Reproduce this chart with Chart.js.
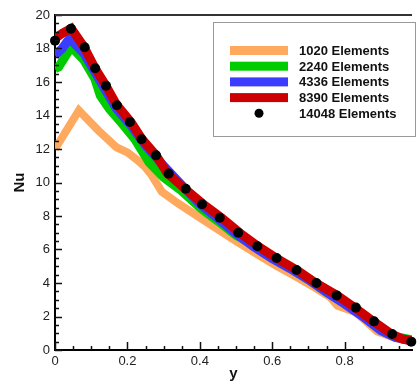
<!DOCTYPE html>
<html>
<head>
<meta charset="utf-8">
<script src="https://cdn.jsdelivr.net/npm/chart.js@4"></script>
<style>
    body { margin: 0; background: #fff; }
    #wrap { width: 417px; height: 383px; }
</style>
</head>
<body>
<div id="wrap"><canvas id="chart-1" width="417" height="383"></canvas></div>
<script>

// series values
const labels = ['1020 Elements', '2240 Elements', '4336 Elements', '8390 Elements', '14048 Elements']

const x1020 = [0, 0.066, 0.12, 0.17, 0.2, 0.23, 0.25, 0.265, 0.295, 0.34, 0.4, 0.45, 0.5, 0.56, 0.61, 0.66, 0.72, 0.76, 0.78, 0.83, 0.86, 0.89, 0.93, 0.986]
const y1020 = [12.0, 14.3, 13.1, 12.1, 11.8, 11.3, 10.9, 10.5, 9.45, 8.75, 7.9, 7.2, 6.5, 5.7, 5.05, 4.45, 3.7, 3.15, 2.65, 2.25, 1.7, 1.1, 0.8, 0.5]

const x2240 = [0, 0.01, 0.045, 0.08, 0.11, 0.125, 0.15, 0.19, 0.22, 0.26, 0.3, 0.35, 0.4, 0.45, 0.5, 0.55, 0.6, 0.65, 0.7, 0.75, 0.8, 0.85, 0.9, 0.94, 0.986]
const y2240 = [16.8, 16.9, 18.1, 17.3, 16.2, 15.2, 14.4, 13.4, 12.6, 11.2, 10.3, 9.5, 8.5, 7.7, 6.85, 6.25, 5.6, 4.9, 4.2, 3.45, 2.8, 2.1, 1.3, 0.8, 0.6]

const x4336 = [0, 0.02, 0.04, 0.08, 0.11, 0.14, 0.17, 0.21, 0.25, 0.3, 0.35, 0.4, 0.45, 0.5, 0.55, 0.6, 0.65, 0.7, 0.75, 0.8, 0.85, 0.9, 0.94, 0.986]
const y4336 = [17.6, 18.0, 18.6, 17.7, 16.6, 15.5, 14.4, 13.4, 12.2, 11.0, 9.85, 8.7, 7.85, 6.95, 6.15, 5.45, 4.85, 4.2, 3.45, 2.75, 2.0, 1.15, 0.75, 0.55]

const x8390 = [0, 0.02, 0.045, 0.08, 0.11, 0.14, 0.17, 0.21, 0.24, 0.28, 0.31, 0.36, 0.41, 0.46, 0.51, 0.56, 0.61, 0.67, 0.72, 0.78, 0.83, 0.88, 0.93, 0.96, 0.986]
const y8390 = [18.6, 18.9, 19.2, 18.1, 16.85, 15.8, 14.65, 13.6, 12.6, 11.6, 10.55, 9.6, 8.7, 7.9, 7.0, 6.2, 5.5, 4.75, 4.0, 3.25, 2.5, 1.7, 0.95, 0.65, 0.55]

const x14048 = [0, 0.044, 0.082, 0.111, 0.141, 0.171, 0.207, 0.239, 0.279, 0.314, 0.361, 0.406, 0.455, 0.506, 0.559, 0.612, 0.667, 0.722, 0.778, 0.831, 0.881, 0.931, 0.984]
const y14048 = [18.47, 19.18, 18.07, 16.82, 15.78, 14.61, 13.61, 12.58, 11.62, 10.53, 9.63, 8.70, 7.90, 7.00, 6.19, 5.49, 4.78, 4.00, 3.26, 2.53, 1.71, 0.96, 0.50]

const xTicks = [0, 0.2, 0.4, 0.6, 0.8]

const colors = ['#FFA95E', '#00CC00', '#3C3CFF', '#CC0000', '#000000']

const pts = (xs, ys) => xs.map((x, i) => ({ x: x, y: ys[i] }))


// ////////////////////////////// inward ticks + top frame line
const frameTicks = {
    id: 'frameTicks',
    afterDatasetsDraw(chart) {
        const { ctx, chartArea, scales } = chart;
        const xs = scales.x, ys = scales.y;
        ctx.save();
        ctx.strokeStyle = '#111';
        ctx.lineWidth = 1.5;
        ctx.beginPath();
        for (let v = 0; v <= 20.001; v += 0.5) {
            const py = Math.round(ys.getPixelForValue(v)) + 0.5;
            const len = Math.abs(v % 2) < 0.01 ? 7 : 4;
            ctx.moveTo(chartArea.left, py);
            ctx.lineTo(chartArea.left + len, py);
        }
        for (let v = 0; v <= xs.max; v += 0.05) {
            const px = Math.round(xs.getPixelForValue(v)) + 0.5;
            const major = Math.abs((v / 0.2) - Math.round(v / 0.2)) < 0.01;
            ctx.moveTo(px, chartArea.bottom);
            ctx.lineTo(px, chartArea.bottom - (major ? 8 : 4));
        }
        ctx.stroke();

        ctx.strokeStyle = '#333';
        ctx.lineWidth = 2;
        ctx.beginPath();
        ctx.moveTo(chartArea.left, chartArea.top);
        ctx.lineTo(chartArea.right, chartArea.top);
        ctx.stroke();
        ctx.restore();
    }
};

// ////////////////////////////// legend box inside the plot
const boxLegend = {
    id: 'boxLegend',
    afterDraw(chart) {
        const ctx = chart.ctx;
        const left = 213, top = 22, w = 202, h = 114;
        ctx.save();
        ctx.fillStyle = '#fff';
        ctx.fillRect(left, top, w, h);
        ctx.strokeStyle = '#999';
        ctx.lineWidth = 1;
        ctx.strokeRect(left + 0.5, top + 0.5, w, h);

        ctx.font = 'bold 13px "Liberation Sans", Arial, sans-serif';
        ctx.textBaseline = 'middle';
        ctx.fillStyle = '#111';
        chart.data.datasets.forEach((ds, i) => {
            const yy = 50.5 + i * 15.7;
            if (ds.showLine === false) {
                ctx.fillStyle = '#000';
                ctx.beginPath();
                ctx.arc(259, yy, 4.5, 0, Math.PI * 2);
                ctx.fill();
            } else {
                ctx.fillStyle = ds.borderColor;
                ctx.fillRect(230, yy - 4.5, 58, 9);
            }
            ctx.fillStyle = '#111';
            ctx.fillText(ds.label, 299, yy + 1);
        });
        ctx.restore();
    }
};


const ctx1 = document.getElementById('chart-1');

const lineSet = (i, xs, ys, width) => ({
    label: labels[i],
    data: pts(xs, ys),
    borderColor: colors[i],
    backgroundColor: colors[i],
    borderWidth: width,
    pointRadius: 0,
    tension: 0,
    order: 4 - i,
    clip: 0
})

new Chart(ctx1, {
    type: 'line',
    data: {
        datasets: [
            lineSet(0, x1020, y1020, 8),
            lineSet(1, x2240, y2240, 9),
            lineSet(2, x4336, y4336, 9),
            lineSet(3, x8390, y8390, 9),
            {
                label: labels[4],
                data: pts(x14048, y14048),
                showLine: false,
                pointRadius: 5,
                pointBackgroundColor: '#000',
                pointBorderWidth: 0,
                borderColor: '#000',
                order: 0,
                clip: false
            }
        ]
    },
    options: {
        responsive: false,
        animation: false,
        layout: { padding: { top: 15, right: 0, bottom: 0, left: 0 } },
        plugins: {
            legend: { display: false },
            tooltip: { enabled: false }
        },
        scales: {
            x: {
                type: 'linear',
                min: 0,
                max: 0.986,
                afterBuildTicks: (axis) => { axis.ticks = xTicks.map(v => ({ value: v })) },
                afterFit: (axis) => { axis.height = 33 },
                grid: { display: false, drawTicks: false },
                border: { display: true, color: '#000', width: 2 },
                ticks: {
                    padding: 4,
                    color: '#222',
                    font: { family: '"Liberation Sans", Arial, sans-serif', size: 13 }
                },
                title: {
                    display: true,
                    text: 'y',
                    color: '#111',
                    padding: 0,
                    font: { family: '"Liberation Sans", Arial, sans-serif', size: 15, weight: 'bold' }
                }
            },
            y: {
                min: 0,
                max: 20,
                ticks: {
                    stepSize: 2,
                    padding: 5,
                    color: '#222',
                    font: { family: '"Liberation Sans", Arial, sans-serif', size: 13 }
                },
                afterFit: (axis) => { axis.width = 55 },
                grid: { display: false, drawTicks: false },
                border: { display: true, color: '#000', width: 2 },
                title: {
                    display: true,
                    text: 'Nu',
                    color: '#111',
                    padding: { top: 11, bottom: 0 },
                    font: { family: '"Liberation Sans", Arial, sans-serif', size: 15, weight: 'bold' }
                }
            }
        }
    },
    plugins: [frameTicks, boxLegend]
});
</script>
</body>
</html>
